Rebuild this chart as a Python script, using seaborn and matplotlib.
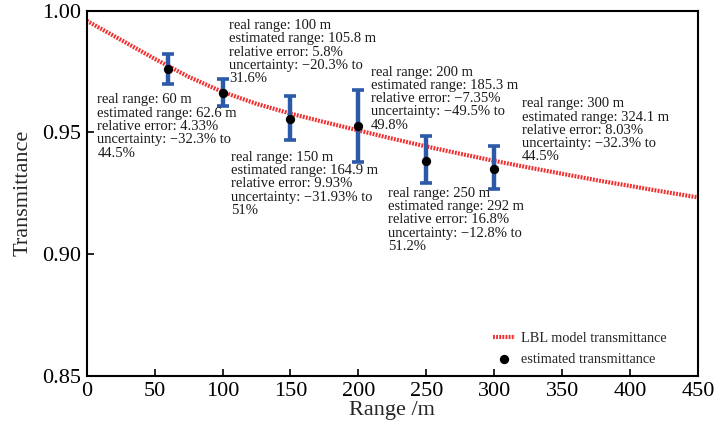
import matplotlib
matplotlib.use("Agg")
import matplotlib.pyplot as plt
import seaborn as sns
import pandas as pd
import numpy as np

# LBL model transmittance curve
model_range = [0, 25, 50, 75, 100, 125, 150, 175, 200, 225, 250, 275, 300, 325, 350, 375, 400, 425, 450]
model_trans = [0.9958, 0.9880, 0.9802, 0.9728, 0.9666, 0.9617, 0.9577, 0.9542, 0.9508, 0.9474,
               0.9442, 0.9412, 0.9383, 0.9356, 0.9330, 0.9304, 0.9280, 0.9256, 0.9233]

# estimated transmittance points and error bar limits
real_range = [60, 100, 150, 200, 250, 300]
est_trans = [0.9758, 0.9663, 0.9554, 0.9524, 0.9384, 0.9351]
err_upper = [0.9821, 0.9719, 0.9648, 0.9673, 0.9483, 0.9444]
err_lower = [0.9699, 0.9607, 0.9469, 0.9377, 0.9294, 0.9267]

annotations = [
    "real range: 60 m\nestimated range: 62.6 m\nrelative error: 4.33%\nuncertainty: \u221232.3% to\n44.5%",
    "real range: 100 m\nestimated range: 105.8 m\nrelative error: 5.8%\nuncertainty: \u221220.3% to\n31.6%",
    "real range: 150 m\nestimated range: 164.9 m\nrelative error: 9.93%\nuncertainty: \u221231.93% to\n51%",
    "real range: 200 m\nestimated range: 185.3 m\nrelative error: \u22127.35%\nuncertainty: \u221249.5% to\n49.8%",
    "real range: 250 m\nestimated range: 292 m\nrelative error: 16.8%\nuncertainty: \u221212.8% to\n51.2%",
    "real range: 300 m\nestimated range: 324.1 m\nrelative error: 8.03%\nuncertainty: \u221232.3% to\n44.5%",
]
annot_x = [7.8, 105, 106, 209.4, 221.6, 320.3]
annot_y = [0.9660, 0.9965, 0.9425, 0.9774, 0.9277, 0.9644]

x_ticks = [0, 50, 100, 150, 200, 250, 300, 350, 400, 450]
y_ticks = [0.85, 0.90, 0.95, 1.00]

sns.set_theme(style="white")
plt.rcParams['font.family'] = ['Liberation Serif', 'DejaVu Serif']
plt.rcParams['mathtext.fontset'] = 'dejavuserif'

fig = plt.figure(figsize=(7.15, 4.24), dpi=100)
ax = fig.add_axes([0.1213, 0.1132, 0.9762 - 0.1213, 0.9752 - 0.1132])

model_df = pd.DataFrame({"Range": model_range, "T": model_trans})
pts_df = pd.DataFrame({"Range": real_range, "T": est_trans})

sns.lineplot(data=model_df, x="Range", y="T", ax=ax, color="#f03030",
             linewidth=3.0, linestyle=(0, (0.45, 0.3)), label="LBL model transmittance",
             zorder=2)

yerr = np.array([np.array(est_trans) - np.array(err_lower),
                 np.array(err_upper) - np.array(est_trans)])
ax.errorbar(real_range, est_trans, yerr=yerr, fmt="none", ecolor="#2c5aa8",
            elinewidth=3.2, capsize=4.5, capthick=2.6, zorder=3)

sns.scatterplot(data=pts_df, x="Range", y="T", ax=ax, color="black", s=45,
                edgecolor="black", linewidth=0, label="estimated transmittance", zorder=4)

for txt, tx, ty in zip(annotations, annot_x, annot_y):
    ax.text(tx, ty, txt, fontsize=10.5, va="top", ha="left", linespacing=1.03,
            color="#1a1a1a", zorder=5)

ax.set_xlim(0, 450)
ax.set_ylim(0.85, 1.00)
ax.set_xticks(x_ticks)
ax.set_yticks(y_ticks)
ax.set_xticklabels([str(v) for v in x_ticks])
ax.set_yticklabels([f"{v:.2f}" for v in y_ticks])
ax.tick_params(axis="both", direction="in", length=5, width=1.2, labelsize=16,
               colors="black", bottom=True, left=True, top=False, right=False, pad=4)
for sp in ax.spines.values():
    sp.set_color("black")
    sp.set_linewidth(1.5)

ax.set_xlabel("Range /m", fontsize=16, labelpad=0)
ax.set_ylabel("Transmittance", fontsize=16, labelpad=7)

leg = ax.legend(loc="lower right", frameon=False, fontsize=10.3, handlelength=1.55,
                handletextpad=0.45, bbox_to_anchor=(0.9586, 0.0115), borderaxespad=0,
                labelspacing=0.55)

fig.savefig("out.png", dpi=100)
